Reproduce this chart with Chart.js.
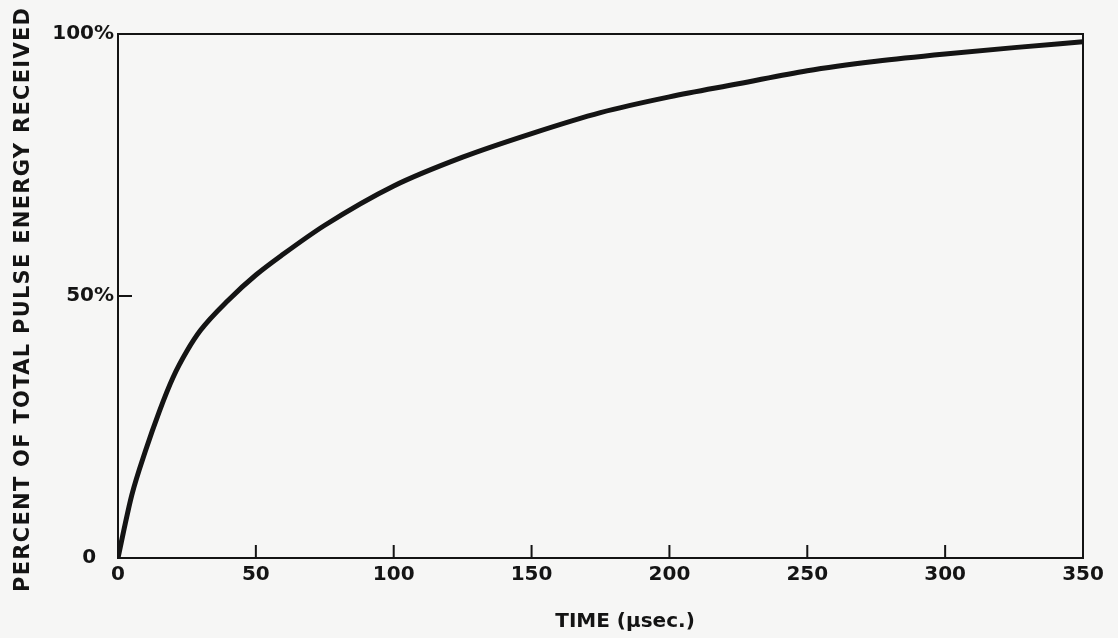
<!DOCTYPE html>
<html>
<head>
<meta charset="utf-8">
<script src="https://cdn.jsdelivr.net/npm/chart.js@4"></script>
<style>
  html, body { margin: 0; padding: 0; background: #f6f6f5; }
  #wrap { width: 1118px; height: 638px; }
</style>
</head>
<body>
<div id="wrap"><canvas id="pulseChart" width="1118" height="638"></canvas></div>
<script>
// tempo (microssegundos) e percentual de energia recebida
const timeUs = [0, 2, 5, 10, 15, 20, 25, 30, 40, 50, 60, 75, 100, 125, 150, 175, 200, 225, 250, 275, 300, 325, 350];
const energyPct = [0, 5, 12, 20.5, 28, 34.5, 39.5, 43.5, 49.2, 54, 58, 63.5, 71, 76.5, 81, 85, 88, 90.5, 93, 94.8, 96.2, 97.4, 98.5];

const xTicks = [0, 50, 100, 150, 200, 250, 300, 350];
const yTicks = [0, 50, 100];
const xTitle = "TIME (\u03bcsec.)";
const yTitle = "PERCENT OF TOTAL PULSE ENERGY RECEIVED";

const ink = "#141414";
const labelFont = { family: "DejaVu Sans", size: 20, weight: "bold" };

// escreve o texto esticado até um comprimento alvo
function spacedText(ctx, text, x, y, target) {
    ctx.letterSpacing = "0px";
    const w = ctx.measureText(text).width;
    const sp = Math.max(0, (target - w) / (text.length - 1));
    ctx.letterSpacing = sp + "px";
    ctx.fillText(text, x + sp / 2, y);
}

// moldura, marcas internas e títulos
const framePlugin = {
    id: "frame",
    afterDatasetsDraw(chart) {
        const { ctx, chartArea: a, scales } = chart;
        ctx.save();
        ctx.strokeStyle = ink;
        ctx.lineWidth = 2;
        ctx.strokeRect(a.left, a.top, a.right - a.left, a.bottom - a.top);

        // marcas do eixo x (para dentro)
        ctx.beginPath();
        xTicks.slice(1, -1).forEach(v => {
            const px = scales.x.getPixelForValue(v);
            ctx.moveTo(px, a.bottom);
            ctx.lineTo(px, a.bottom - 13);
        });
        // marca do eixo y em 50%
        yTicks.slice(1, -1).forEach(v => {
            const py = scales.y.getPixelForValue(v);
            ctx.moveTo(a.left, py);
            ctx.lineTo(a.left + 14, py);
        });
        ctx.stroke();
        ctx.restore();
    },
    afterDraw(chart) {
        const { ctx } = chart;
        ctx.save();
        ctx.fillStyle = ink;
        ctx.textAlign = "center";
        ctx.textBaseline = "middle";
        ctx.font = "bold 20px 'DejaVu Sans'";
        spacedText(ctx, xTitle, 625, 622, 136);

        ctx.translate(24, 300);
        ctx.rotate(-Math.PI / 2);
        ctx.font = "bold 21px 'DejaVu Sans'";
        spacedText(ctx, yTitle, 0, 0, 584);
        ctx.restore();
    }
};

const ctxPulse = document.getElementById("pulseChart").getContext("2d");

new Chart(ctxPulse, {
    type: "line",
    data: {
        datasets: [{
            data: timeUs.map((t, i) => ({ x: t, y: energyPct[i] })),
            borderColor: ink,
            borderWidth: 5,
            pointRadius: 0,
            fill: false,
            cubicInterpolationMode: "monotone",
        }],
    },
    options: {
        responsive: false,
        animation: false,
        layout: { padding: { top: 34, right: 35, left: 0, bottom: 0 } },
        plugins: { legend: { display: false }, tooltip: { enabled: false } },
        scales: {
            x: {
                type: "linear",
                min: 0,
                max: 350,
                afterBuildTicks: s => { s.ticks = xTicks.map(v => ({ value: v })); },
                afterFit: s => { s.height = 80; },
                grid: { display: false, drawTicks: false },
                border: { display: false },
                ticks: { color: ink, font: labelFont, padding: 5, maxRotation: 0, autoSkip: false },
            },
            y: {
                type: "linear",
                min: 0,
                max: 100,
                afterBuildTicks: s => { s.ticks = yTicks.map(v => ({ value: v })); },
                afterFit: s => { s.width = 118; },
                grid: { display: false, drawTicks: false },
                border: { display: false },
                ticks: {
                    color: ink,
                    font: labelFont,
                    padding: 4,
                    callback: v => v === 0 ? "0\u2007\u2009" : v + "%",
                },
            },
        },
    },
    plugins: [framePlugin],
});
</script>
</body>
</html>
